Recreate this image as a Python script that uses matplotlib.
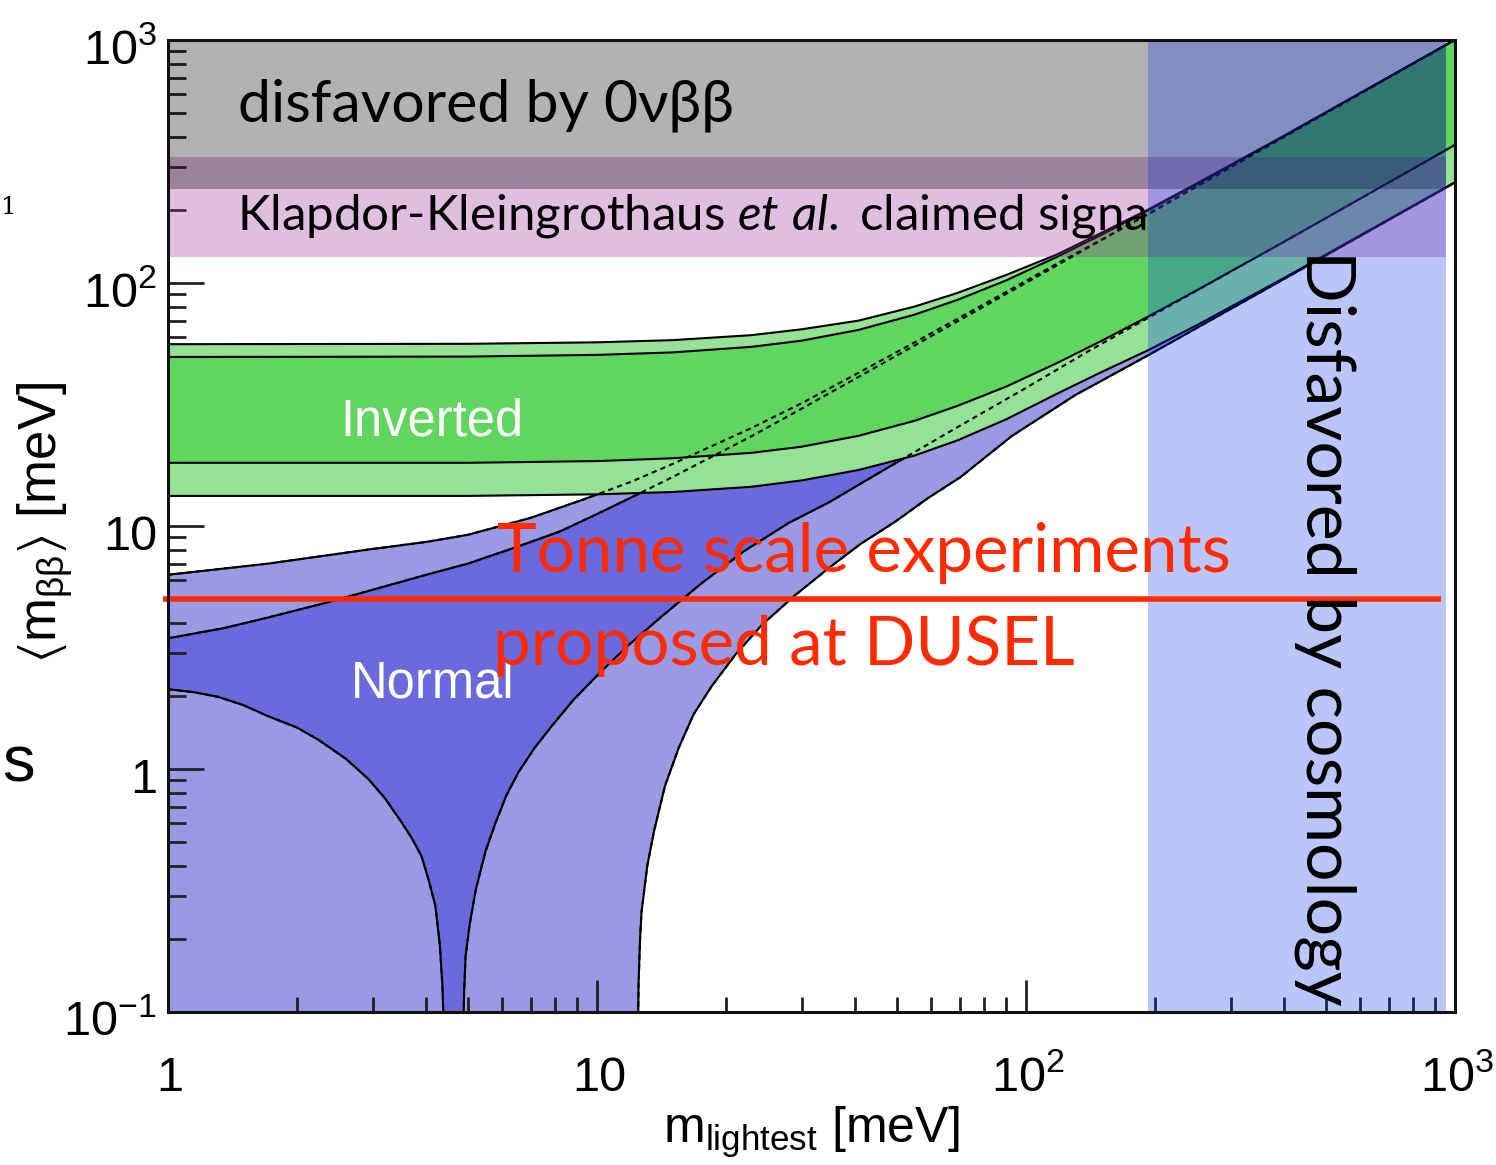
import matplotlib
matplotlib.use("Agg")
import matplotlib.pyplot as plt
from matplotlib.transforms import offset_copy, Bbox, TransformedBbox
from matplotlib.ticker import FixedLocator, NullFormatter

plt.rcParams['mathtext.fontset'] = 'custom'
plt.rcParams['mathtext.rm'] = 'Lato'
plt.rcParams['mathtext.it'] = 'Lato:italic'

# ---------------- data (meV) ----------------
# Inverted hierarchy
ih_x = [1, 5, 10, 15, 22.9, 30, 40.7, 55, 69.2, 90, 118, 150, 193, 250, 400, 1000]
ih_3s_upper = [56, 56.2, 57, 58.2, 61, 64.5, 70, 80, 91, 108, 131, 161, 201, 257, 404, 1002]
ih_bf_upper = [49.6, 49.8, 50.6, 51.8, 54.6, 57.9, 64.1, 74.1, 85.2, 102.6, 128, 158, 199.3, 254.9, 403, 1001]
ih_bf_lower = [18.2, 18.2, 18.5, 19.0, 20.0, 21.2, 23.5, 27.1, 31.2, 37.5, 46.8, 57.8, 72.9, 93.3, 148, 370]
ih_3s_lower = [13.3, 13.3, 13.5, 13.8, 14.5, 15.4, 17.0, 19.5, 22.5, 27.5, 35, 43, 53, 67, 105, 260]

# Normal hierarchy
nh_3s_upper_x = [1, 1.71, 2.93, 4, 5, 7, 9.23, 12, 15, 22.9, 30, 40, 55, 69, 90, 118, 150, 193, 400, 1000]
nh_3s_upper_y = [6.3, 7.0, 8.0, 8.6, 9.2, 10.8, 12.8, 15.2, 18, 25.3, 32, 42, 57, 71, 92, 120, 151, 192, 400, 1000]
nh_bf_upper_x = [1, 1.35, 1.71, 2.3, 2.93, 4, 5, 6.5, 8.2, 10, 11.8, 15, 22.9, 30, 50, 100, 193, 1000]
nh_bf_upper_y = [3.45, 3.8, 4.2, 4.8, 5.4, 6.3, 7.0, 8.2, 9.5, 11.2, 12.9, 15.9, 23.4, 30.4, 50.3, 100.2, 193, 1000]
nh_bf_lowL_x = [1, 1.15, 1.31, 1.5, 1.71, 2.0, 2.24, 2.6, 2.93, 3.2, 3.5, 3.7, 3.9, 4.05, 4.2, 4.3, 4.36, 4.40, 4.42]
nh_bf_lowL_y = [2.13, 2.07, 1.98, 1.83, 1.65, 1.48, 1.32, 1.1, 0.91, 0.76, 0.605, 0.52, 0.437, 0.35, 0.273, 0.19, 0.13, 0.08, 0.01]
nh_bf_lowR_x = [4.82, 4.86, 4.9, 4.94, 5.05, 5.22, 5.5, 5.81, 6.15, 6.56, 7.15, 7.84, 8.8, 10.2, 12, 14.1,
                17.5, 22.0, 28, 34.7, 45.3, 53, 70, 100, 140, 193, 400, 1000]
nh_bf_lowR_y = [0.01, 0.06, 0.12, 0.17, 0.23, 0.32, 0.46, 0.605, 0.78, 0.97, 1.22, 1.5, 1.92, 2.51, 3.3, 4.22,
                5.8, 7.87, 10.3, 12.5, 16.5, 19.4, 25.8, 37, 52.5, 72, 148, 370]
nh_3s_lower_x = [12.4, 12.45, 12.5, 12.6, 12.7, 13.1, 13.6, 14.4, 15.5, 16.8, 18.5, 21, 24.2, 29, 34.7, 41,
                 49.5, 59, 70.4, 92.5, 130, 193, 400, 1000]
nh_3s_lower_y = [0.01, 0.07, 0.13, 0.2, 0.258, 0.4, 0.561, 0.85, 1.22, 1.68, 2.19, 2.95, 3.91, 5.2, 6.71, 8.4,
                 10.4, 13, 15.9, 23.4, 34.5, 50.5, 104, 259]
floor_val = 0.01

# bands (meV)
klapdor_band = (128, 330)
onbb_band = (244, 1000)
band_x_end = 955
cosmo_x = (192, 955)
tonne_level = 5.0
tonne_x = (0.973, 927)

xtick_vals = [1, 10, 100, 1000]
xtick_labels = ['1', '10', r'$\mathregular{10^{2}}$', r'$\mathregular{10^{3}}$']
ytick_vals = [0.1, 1, 10, 100, 1000]
ytick_labels = [r'$\mathregular{10^{-1}}$', '1', '10', r'$\mathregular{10^{2}}$', r'$\mathregular{10^{3}}$']

# ---------------- figure ----------------
W, H = 1496, 1165
fig = plt.figure(figsize=(W / 100, H / 100), dpi=100)
L, R, T, B = 168, 1455, 40, 1012
ax = fig.add_axes([L / W, 1 - B / H, (R - L) / W, (B - T) / H])
ax.set_xscale('log')
ax.set_yscale('log')
ax.set_xlim(1, 1000)
ax.set_ylim(0.1, 1000)

c_nh_light = '#9999e4'
c_nh_dark = '#6a6adc'
c_ih_dark = '#60d660'
c_ih_light = '#95e195'
lw = 1.5

# Normal hierarchy fills
ax.fill(nh_3s_upper_x + nh_3s_lower_x[::-1] + [1],
        nh_3s_upper_y + nh_3s_lower_y[::-1] + [floor_val],
        color=c_nh_light, lw=0, zorder=1)
ax.fill(nh_bf_upper_x + nh_bf_lowR_x[::-1] + nh_bf_lowL_x[::-1],
        nh_bf_upper_y + nh_bf_lowR_y[::-1] + nh_bf_lowL_y[::-1],
        color=c_nh_dark, lw=0, zorder=1.1)
nh_curves = [(nh_3s_upper_x, nh_3s_upper_y), (nh_bf_upper_x, nh_bf_upper_y),
             (nh_bf_lowL_x, nh_bf_lowL_y), (nh_bf_lowR_x, nh_bf_lowR_y),
             (nh_3s_lower_x, nh_3s_lower_y)]
for cx, cy in nh_curves:
    ax.plot(cx, cy, color='black', lw=lw, zorder=1.2)

# Inverted hierarchy fills (opaque, on top)
ax.fill(ih_x + ih_x[::-1], ih_3s_upper + ih_3s_lower[::-1], color=c_ih_light, lw=0, zorder=2)
ax.fill(ih_x + ih_x[::-1], ih_bf_upper + ih_bf_lower[::-1], color=c_ih_dark, lw=0, zorder=2.1)
# NH boundaries seen through the IH band (dashed)
for cx, cy in nh_curves:
    ax.plot(cx, cy, color='black', lw=lw, ls=(0, (2.5, 2.0)), zorder=2.2)
for cy in (ih_3s_upper, ih_bf_upper, ih_bf_lower, ih_3s_lower):
    ax.plot(ih_x, cy, color='black', lw=lw, zorder=2.3)

# overlay bands
ax.fill_between([1, band_x_end], klapdor_band[0], klapdor_band[1],
                color=(152/255, 45/255, 152/255), alpha=0.31, lw=0, zorder=3)
ax.fill_between([1, band_x_end], onbb_band[0], onbb_band[1],
                color='black', alpha=0.30, lw=0, zorder=3.1)
ax.fill_between(list(cosmo_x), 0.1, 1000,
                color=(0, 45/255, 235/255), alpha=0.27, lw=0, zorder=3.2)

# Tonne scale line
ax.plot(list(tonne_x), [tonne_level, tonne_level], color='#ff2a00', lw=4.0,
        clip_on=False, zorder=4, solid_capstyle='butt')

# axes styling
for s in ax.spines.values():
    s.set_linewidth(2.2)
    s.set_color('#111111')
    s.set_zorder(5)
ax.xaxis.set_major_locator(FixedLocator(xtick_vals))
ax.yaxis.set_major_locator(FixedLocator(ytick_vals))
ax.xaxis.set_minor_locator(FixedLocator([m * 10 ** e for e in range(0, 3) for m in range(2, 10)]))
ax.yaxis.set_minor_locator(FixedLocator([m * 10 ** e for e in range(-1, 3) for m in range(2, 10)]))
for a in (ax.xaxis, ax.yaxis):
    a.set_major_formatter(NullFormatter())
    a.set_minor_formatter(NullFormatter())
ax.tick_params(which='both', direction='in', top=False, right=False, width=2.0, color='#222222')
ax.tick_params(axis='y', which='major', length=26)
ax.tick_params(axis='y', which='minor', length=13)
ax.tick_params(axis='x', which='major', length=23)
ax.tick_params(axis='x', which='minor', length=11)

tickfont = ['Liberation Sans', 'DejaVu Sans']
ytr = offset_copy(ax.get_yaxis_transform(), fig=fig, x=-11, y=-24, units='dots')
for v, lab in zip(ytick_vals, ytick_labels):
    ax.text(0, v, lab, transform=ytr, ha='right', va='baseline', fontsize=35,
            family=tickfont, clip_on=False)
xtr = offset_copy(ax.get_xaxis_transform(), fig=fig, x=2, y=-79, units='dots')
for v, lab in zip(xtick_vals, xtick_labels):
    ax.text(v, 0, lab, transform=xtr, ha='center', va='baseline', fontsize=35,
            family=tickfont, clip_on=False)

# axis titles
fig.text(812 / W, 1 - 1143 / H, r'$\mathregular{m_{lightest}}$ [meV]', ha='center',
         va='baseline', fontsize=36, family=tickfont)
fig.text(45 / W, 1 - 522 / H, r'$\mathregular{\langle m_{\beta\beta}\rangle}$ [meV]',
         ha='center', va='center', rotation=90, fontsize=38, family=tickfont)

# region labels
fig.text(340 / W, 1 - 435 / H, 'Inverted', color='white', fontsize=36.5,
         family=tickfont, ha='left', va='baseline')
fig.text(351 / W, 1 - 697 / H, 'Normal', color='white', fontsize=36.5,
         family=tickfont, ha='left', va='baseline')

calib = ['Lato', 'DejaVu Sans']
fig.text(238 / W, 1 - 122 / H, 'disfavored by 0νββ', fontsize=42.5, family=calib,
         ha='left', va='baseline', color='black')
kt = fig.text(237 / W, 1 - 230 / H, r'Klapdor-Kleingrothaus $\mathit{et\ al.}$ claimed signal',
              fontsize=35.5, family=calib, ha='left', va='baseline', color='black')
kt.set_clip_box(TransformedBbox(Bbox.from_extents(0, 0, 1147 / W, 1), fig.transFigure))
kt.set_clip_on(True)

fig.text(497 / W, 1 - 572 / H, 'Tonne scale experiments', fontsize=48.5, family=calib,
         color='#ff2a00', ha='left', va='baseline')
fig.text(493 / W, 1 - 665 / H, 'proposed at DUSEL', fontsize=48.5, family=calib,
         color='#ff2a00', ha='left', va='baseline')
fig.text(1307 / W, 1 - 250 / H, 'Disfavored by cosmology', fontsize=49, family=calib,
         color='black', rotation=-90, rotation_mode='anchor', ha='left', va='baseline')

# fragments at the left edge
fig.text(0.5 / W, 1 - 214 / H, '1', fontsize=18, family='DejaVu Serif', ha='left', va='baseline')
fig.text(2 / W, 1 - 782 / H, 's', fontsize=47, family='Liberation Sans', ha='left', va='baseline')

fig.savefig('out.png', dpi=100)
